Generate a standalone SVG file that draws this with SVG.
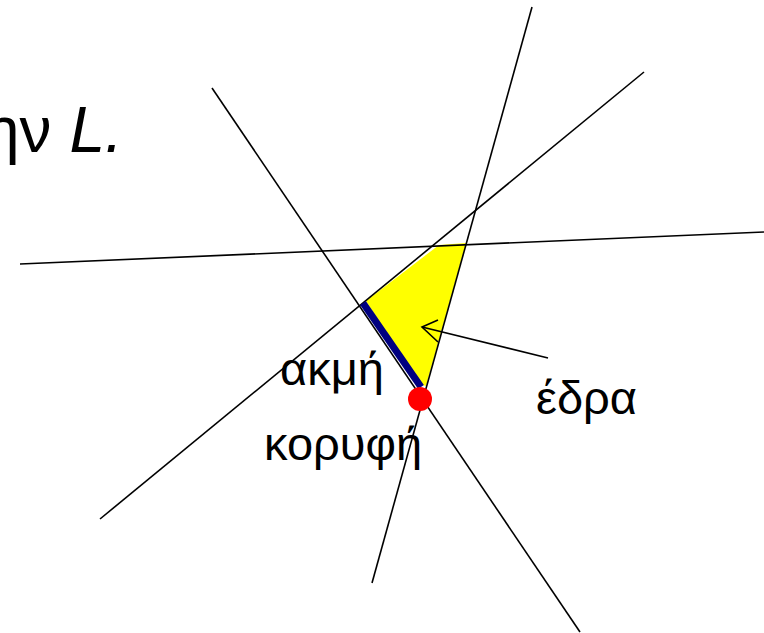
<svg xmlns="http://www.w3.org/2000/svg" width="764" height="633" viewBox="0 0 764 633">
<style>
.ln{stroke:#000;stroke-width:1.6;fill:none}
.t{font-family:"Liberation Sans",Arial,sans-serif;font-size:47px;fill:#000}
</style>
<rect width="764" height="633" fill="#fff"/>
<text class="t" x="-16" y="152" style="font-size:64px">ην <tspan font-style="italic">L.</tspan></text>
<g id="face">
<polygon points="366,301 439,245 466,243 426,386 419,384" fill="#ffff00"/>
</g>
<g id="connectors">
<line class="ln" x1="532" y1="7" x2="372" y2="583"/>
<line class="ln" x1="644" y1="72" x2="100" y2="519"/>
<line class="ln" x1="20" y1="264" x2="764" y2="232"/>
<line class="ln" x1="212" y1="88" x2="580" y2="632"/>
<line class="ln" x1="548" y1="358" x2="422" y2="327" stroke-width="2.2"/>
<polyline class="ln" points="438,320 422,327 438,342" stroke-width="2.2"/>
</g>
<g id="edge">
<line x1="363" y1="303" x2="421" y2="387" stroke="#000080" stroke-width="7"/>
</g>
<g id="vertex">
<circle cx="420" cy="399" r="12" fill="#ff0000"/>
</g>
<g id="labels">
<text class="t" x="280" y="385">ακμή</text>
<text class="t" x="536" y="414">έδρα</text>
<text class="t" x="264" y="460">κορυφή</text>
</g>
</svg>
